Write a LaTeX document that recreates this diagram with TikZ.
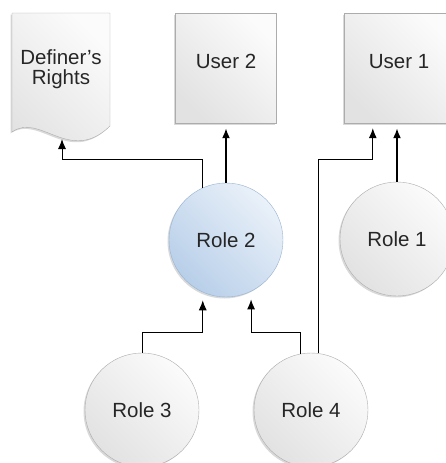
\documentclass[tikz,border=0pt]{standalone}
\usepackage{fontspec}
\setmainfont{Liberation Sans}
\definecolor{boxline}{RGB}{172,172,172}
\definecolor{boxlight}{RGB}{251,251,251}
\definecolor{boxdark}{RGB}{226,226,226}
\definecolor{roleline}{RGB}{150,178,210}
\definecolor{rolelight}{RGB}{234,241,249}
\definecolor{roledark}{RGB}{184,207,233}
\usetikzlibrary{calc,math}
\usetikzlibrary{shadows}
\usetikzlibrary{shapes,arrows.meta,positioning}

\begin{document}
\begin{tikzpicture}[x=1pt,y=-1pt,
        every node/.style={font=\fontsize{20.5}{20}\selectfont, text=black!85},
        shade/.style={drop shadow={shadow xshift=-1.5pt, shadow yshift=-1.5pt, opacity=0.3}},
        grayfill/.style={top color=boxlight, bottom color=boxdark, shading angle=-45},
        bluefill/.style={top color=rolelight, bottom color=roledark, shading angle=-45, draw=roleline},
        userbox/.style={grayfill, draw=boxline, shade, minimum width=101pt, minimum height=110pt, text depth=14pt},
        rolecirc/.style={circle, grayfill, draw=boxline, shade, minimum size=114pt, inner sep=0pt},
        link/.style={draw=black, line width=1pt, -{Latex[length=10pt,width=8pt]}},
        mainlink/.style={link, line width=1.8pt}]
        \tikzmath{
            let \picw = 446;
            let \pich = 463;
        }

        \useasboundingbox (0,0) rectangle (\picw,\pich);
        \clip (0,0) rectangle (\picw,\pich);

        % top row
        \path[grayfill, draw=boxline, shade] (12,13) -- (110,13) -- (110,126)
            .. controls (70,165) and (40,112) .. (12,132) -- cycle;
        \node[align=center] (rights) at (61,69) {Definer's\\Rights};
        \coordinate (rightsin) at (62,139);
        \node[userbox] (user2) at (226,68) {User 2};
        \node[userbox, minimum width=110pt] (user1) at (399,68) {User 1};

        % roles
        \node[rolecirc, bluefill] (role2) at (226,240) {Role 2};
        \node[rolecirc] (role1) at (397,239) {Role 1};
        \node[rolecirc] (role3) at (142,410) {Role 3};
        \node[rolecirc] (role4) at (311,410) {Role 4};

        % grants
        \draw[mainlink, shorten >=5pt] (role2) -- (user2);
        \draw[mainlink, shorten >=5pt] (role1.north) -- (role1.north |- user1.south);
        \draw[link] (role2.114) |- ($(rightsin)+(0,20)$) -- (rightsin);
        \path (user1.south west) ++(29,0) coordinate (user1in);
        \draw[link, shorten >=5pt] (role4.82) |- ($(user1in)+(0,36)$) -- (user1in);
        \draw[link, shorten >=8pt] (role3.north) |- ($(role2.246)+(0,40)$) -- (role2.246);
        \draw[link, shorten >=8pt] (role4.101) |- ($(role2.296)+(0,41)$) -- (role2.296);
    \end{tikzpicture}
\end{document}
